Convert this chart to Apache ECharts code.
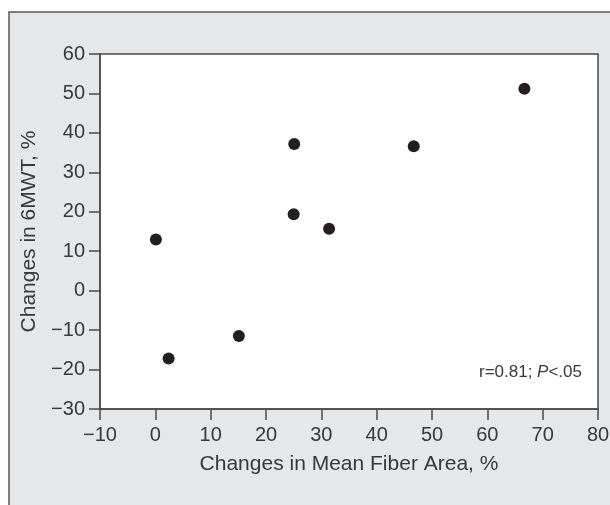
<!DOCTYPE html>
<html>
<head>
<meta charset="utf-8">
<script src="https://cdn.jsdelivr.net/npm/echarts@6/dist/echarts.min.js"></script>
<style>html,body{margin:0;padding:0;background:#fff}#c{width:610px;height:505px}</style>
</head>
<body>
<div id="c"></div>
<script>
// Data
var fiberAreaChange = [0.1, 2.4, 15.1, 25.1, 25.0, 31.4, 46.7, 66.7];
var walkTestChange = [13.0, -17.2, -11.5, 37.2, 19.4, 15.7, 36.6, 51.2];
var xTicks = [-10, 0, 10, 20, 30, 40, 50, 60, 70, 80];
var yTicks = [-30, -20, -10, 0, 10, 20, 30, 40, 50, 60];
var xTitle = 'Changes in Mean Fiber Area, %';
var yTitle = 'Changes in 6MWT, %';
var statLabel = ['r=0.81; ', 'P', '<.05'];

var points = fiberAreaChange.map(function (x, i) { return [x, walkTestChange[i]]; });
function fmt(v) { return String(v).replace('-', '\u2212'); }

var textColor = '#383838';
var lineColor = '#4a4a4a';
var font = 'Liberation Sans, Arial, sans-serif';

var chart = echarts.init(document.getElementById('c'), null, { renderer: 'canvas' });
chart.setOption({
  backgroundColor: '#ffffff',
  animation: false,
  graphic: [
    {
      type: 'rect', z: -10, silent: true,
      shape: { x: 9, y: 12, width: 620, height: 520 },
      style: { fill: '#e6e7e8', stroke: '#5a5a5a', lineWidth: 1.5 }
    },
    {
      type: 'text', z: 10,
      right: 28, top: 364,
      style: {
        text: '{a|' + statLabel[0] + '}{b|' + statLabel[1] + '}{a|' + statLabel[2] + '}',
        rich: {
          a: { fontFamily: font, fontSize: 17, fill: textColor },
          b: { fontFamily: font, fontSize: 17, fill: textColor, fontStyle: 'italic' }
        }
      }
    }
  ],
  grid: {
    left: 100, right: 12, top: 54, bottom: 96,
    show: true, backgroundColor: '#ffffff', borderColor: lineColor, borderWidth: 1.5,
    outerBoundsMode: 'none', containLabel: false
  },
  xAxis: {
    type: 'value',
    min: xTicks[0], max: xTicks[xTicks.length - 1], interval: 10,
    name: xTitle, nameLocation: 'middle', nameGap: 45,
    nameTextStyle: { fontFamily: font, fontSize: 21, color: textColor },
    axisLine: { show: true, onZero: false, lineStyle: { color: lineColor, width: 1.5 } },
    axisTick: { show: true, inside: false, length: 11, lineStyle: { color: lineColor, width: 1.5 } },
    axisLabel: { margin: 16, fontFamily: font, fontSize: 20, color: textColor, formatter: fmt },
    splitLine: { show: false }
  },
  yAxis: {
    type: 'value',
    min: yTicks[0], max: yTicks[yTicks.length - 1], interval: 10,
    name: yTitle, nameLocation: 'middle', nameGap: 54, nameRotate: 90,
    nameTextStyle: { fontFamily: font, fontSize: 21, color: textColor },
    axisLine: { show: true, onZero: false, lineStyle: { color: lineColor, width: 1.5 } },
    axisTick: { show: true, inside: false, length: 11, lineStyle: { color: lineColor, width: 1.5 } },
    axisLabel: { margin: 15, fontFamily: font, fontSize: 20, color: textColor, formatter: fmt },
    splitLine: { show: false }
  },
  series: [{
    type: 'scatter',
    data: points,
    symbol: 'circle',
    symbolSize: 12,
    itemStyle: { color: '#231f20', opacity: 1 }
  }]
});
</script>
</body>
</html>
